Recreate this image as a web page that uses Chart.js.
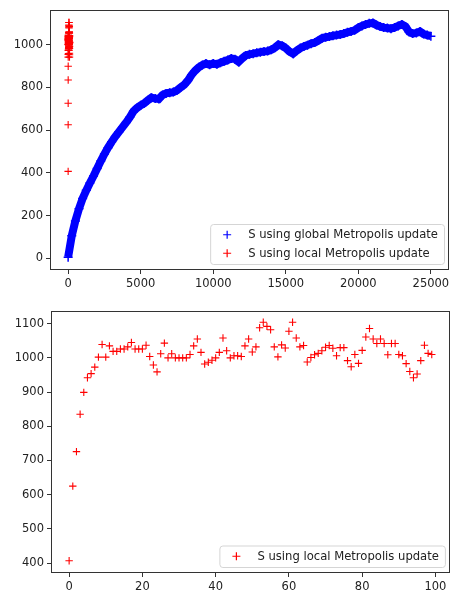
<!DOCTYPE html>
<html lang="en">
<head>
<meta charset="UTF-8">
<title>S using global / local Metropolis update</title>
<script src="https://cdn.jsdelivr.net/npm/chart.js"></script>
<style>
  body { margin: 0; background: #fff; }
  .box { position: absolute; left: 0; width: 455px; }
  #topBox { top: 0; height: 296px; }
  #botBox { top: 296px; height: 297px; }
</style>
</head>
<body>
<div class="box" id="topBox"><canvas id="topChart"></canvas></div>
<div class="box" id="botBox"><canvas id="botChart"></canvas></div>
<script>
// global update: one reading every 250 steps, 0 .. 25000
const globalStep = 250;
const globalS = [
  5, 105, 175, 232, 280, 318, 352, 385, 420, 455,
  488, 518, 545, 570, 592, 614, 636, 660, 688, 704,
  716, 726, 740, 752, 748, 746, 764, 772, 775, 778,
  786, 800, 812, 832, 858, 878, 894, 905, 912, 906,
  912, 908, 916, 922, 928, 936, 932, 920, 936, 950,
  955, 958, 962, 965, 968, 970, 976, 986, 1000, 995,
  984, 968, 958, 972, 984, 992, 998, 1005, 1010, 1020,
  1030, 1035, 1038, 1042, 1045, 1048, 1052, 1058, 1062, 1068,
  1080, 1088, 1095, 1100, 1102, 1092, 1085, 1080, 1078, 1075,
  1080, 1088, 1095, 1085, 1060, 1052, 1055, 1062, 1050, 1045,
  1040
];

// local update: 100 sweeps
const localS = [
  407, 625, 726, 835, 899, 942, 954, 973, 1002, 1039,
  1002, 1035, 1019, 1019, 1026, 1026, 1032, 1045, 1026, 1026,
  1026, 1037, 1004, 979, 959, 1012, 1043, 1000, 1012, 1000,
  1000, 1000, 1000, 1010, 1035, 1055, 1016, 982, 987, 993,
  1000, 1016, 1058, 1021, 1000, 1006, 1006, 1004, 1035, 1055,
  1017, 1032, 1088, 1104, 1092, 1082, 1032, 1003, 1038, 1029,
  1078, 1104, 1058, 1032, 1036, 988, 1001, 1009, 1013, 1021,
  1031, 1036, 1028, 1006, 1030, 1030, 992, 974, 1010, 984,
  1022, 1061, 1086, 1055, 1042, 1055, 1042, 1009, 1042, 1042,
  1010, 1006, 983, 960, 942, 953, 992, 1037, 1013, 1010
];

const xTicksTop = [0, 5000, 10000, 15000, 20000, 25000];
const yTicksTop = [0, 200, 400, 600, 800, 1000];
const xTicksBot = [0, 20, 40, 60, 80, 100];
const yTicksBot = [400, 500, 600, 700, 800, 900, 1000, 1100];

const globalLabel = 'S using global Metropolis update';
const localLabel = 'S using local Metropolis update';

Chart.defaults.font.family = "'DejaVu Sans', sans-serif";
Chart.defaults.font.size = 11.5;
Chart.defaults.color = '#222';

const globalPts = globalS.map((v, i) => ({x: i * globalStep, y: v}));
const localPts = localS.map((v, i) => ({x: i, y: v}));

// frame + matplotlib-like legend in the lower right corner
const framePlugin = {
  id: 'frame',
  afterDatasetsDraw(chart) {
    const a = chart.chartArea, ctx = chart.ctx;
    ctx.save();
    ctx.strokeStyle = '#333';
    ctx.lineWidth = 1;
    ctx.strokeRect(Math.round(a.left) + 0.5, Math.round(a.top) + 0.5,
      Math.round(a.right - a.left) - 1, Math.round(a.bottom - a.top) - 1);

    const items = chart.options.plugins.frame.items;
    ctx.font = "11.6px 'DejaVu Sans', sans-serif";
    let tw = 0;
    items.forEach(it => { tw = Math.max(tw, ctx.measureText(it.text).width); });
    const rowH = 18.5;
    const w = 38 + tw + 6, h = items.length * rowH + 3;
    const x0 = a.right - 5 - w, y0 = a.bottom - 6 - h;
    ctx.beginPath();
    ctx.roundRect(x0 + 0.5, y0 + 0.5, w, h, 3);
    ctx.fillStyle = 'rgba(255,255,255,0.8)';
    ctx.fill();
    ctx.strokeStyle = '#d5d5d5';
    ctx.stroke();
    items.forEach((it, k) => {
      const cy = y0 + 1.5 + rowH * k + rowH / 2;
      const mx = x0 + 17;
      ctx.strokeStyle = it.color;
      ctx.lineWidth = 1.2;
      ctx.beginPath();
      ctx.moveTo(mx - 4, cy); ctx.lineTo(mx + 4, cy);
      ctx.moveTo(mx, cy - 4); ctx.lineTo(mx, cy + 4);
      ctx.stroke();
      ctx.fillStyle = '#222';
      ctx.textBaseline = 'middle';
      ctx.fillText(it.text, x0 + 38, cy + 0.5);
    });
    ctx.restore();
  }
};

function axis(min, max, ticks, isX, size) {
  return {
    type: 'linear',
    min: min,
    max: max,
    afterBuildTicks: s => { s.ticks = ticks.map(v => ({value: v})); },
    afterFit: s => { if (isX) s.height = size; else s.width = size; },
    grid: { drawOnChartArea: false, drawTicks: true, tickLength: 4, color: '#333' },
    border: { display: false },
    ticks: { padding: 3, callback: v => String(v), maxRotation: 0, autoSkip: false }
  };
}

new Chart('topChart', {
  type: 'scatter',
  data: {
    datasets: [{
      label: globalLabel,
      data: globalPts,
      showLine: true,
      borderColor: 'blue',
      borderWidth: 8,
      pointStyle: 'cross',
      pointRadius: 4.5,
      pointBorderWidth: 1.5,
      pointBorderColor: 'blue',
      order: 1
    }, {
      label: localLabel,
      data: localPts,
      pointStyle: 'cross',
      pointRadius: 3.7,
      pointBorderWidth: 1.1,
      pointBorderColor: 'red',
      backgroundColor: 'red',
      order: 0
    }]
  },
  options: {
    responsive: true,
    maintainAspectRatio: false,
    animation: false,
    layout: { padding: { top: 7, right: 2, left: 0, bottom: 0 } },
    scales: {
      x: axis(-1250, 26250, xTicksTop, true, 26),
      y: axis(-55, 1163, yTicksTop, false, 50)
    },
    plugins: {
      legend: { display: false },
      tooltip: { enabled: false },
      frame: { items: [{text: globalLabel, color: 'blue'}, {text: localLabel, color: 'red'}] }
    }
  },
  plugins: [framePlugin]
});

new Chart('botChart', {
  type: 'scatter',
  data: {
    datasets: [{
      label: localLabel,
      data: localPts,
      pointStyle: 'cross',
      pointRadius: 3.7,
      pointBorderWidth: 1.1,
      pointBorderColor: 'red',
      backgroundColor: 'red'
    }]
  },
  options: {
    responsive: true,
    maintainAspectRatio: false,
    animation: false,
    layout: { padding: { top: 15, right: 2, left: 0, bottom: 0 } },
    scales: {
      x: axis(-4.95, 103.95, xTicksBot, true, 20),
      y: axis(371, 1137, yTicksBot, false, 51)
    },
    plugins: {
      legend: { display: false },
      tooltip: { enabled: false },
      frame: { items: [{text: localLabel, color: 'red'}] }
    }
  },
  plugins: [framePlugin]
});
</script>
</body>
</html>
